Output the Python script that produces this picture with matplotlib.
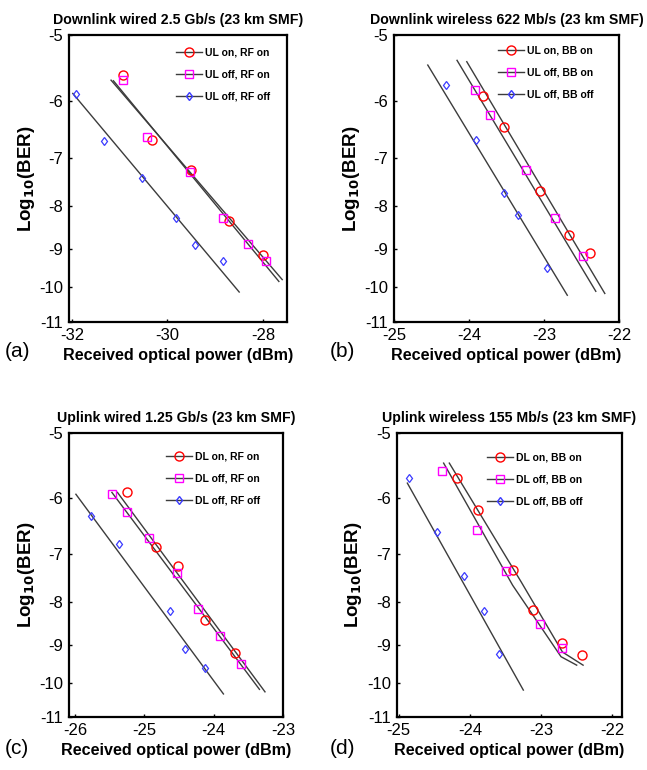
import numpy as np
import matplotlib
matplotlib.use("Agg")
from matplotlib import pyplot as plt
from matplotlib.lines import Line2D

plt.rcParams['font.family'] = ['Liberation Sans', 'DejaVu Sans']
plt.rcParams['axes.unicode_minus'] = False

# (a) Downlink cableado 2.5 Gb/s
a_on_x = [-30.92, -30.33, -29.51, -28.72, -28.01]
a_on_y = [-5.58, -6.67, -7.25, -8.33, -9.14]
a_rf_x = [-30.94, -30.43, -29.53, -28.83, -28.31, -27.93]
a_rf_y = [-5.66, -6.61, -7.28, -8.26, -8.89, -9.30]
a_off_x = [-31.91, -31.33, -30.53, -29.82, -29.43, -28.83]
a_off_y = [-5.88, -6.69, -7.40, -8.26, -8.91, -9.30]
a_fit_on_x, a_fit_on_y = [-31.18, -27.60], [-5.66, -9.79]
a_fit_rf_x, a_fit_rf_y = [-31.13, -27.67], [-5.67, -9.84]
a_fit_off_x, a_fit_off_y = [-31.98, -28.50], [-5.87, -10.13]

# (b) Downlink inalambrico 622 Mb/s
b_on_x = [-23.82, -23.53, -23.05, -22.67, -22.39]
b_on_y = [-5.91, -6.43, -7.68, -8.67, -9.09]
b_rf_x = [-23.92, -23.72, -23.24, -22.86, -22.48]
b_rf_y = [-5.82, -6.22, -7.25, -8.26, -9.17]
b_off_x = [-24.31, -23.91, -23.54, -23.35, -22.96]
b_off_y = [-5.74, -6.67, -7.71, -8.19, -9.47]
b_fit_on_x, b_fit_on_y = [-24.03, -22.19], [-5.38, -10.17]
b_fit_rf_x, b_fit_rf_y = [-24.16, -22.31], [-5.36, -10.11]
b_fit_off_x, b_fit_off_y = [-24.55, -22.69], [-5.43, -10.22]

# (c) Uplink cableado 1.25 Gb/s
c_on_x = [-25.25, -24.84, -24.51, -24.12, -23.69]
c_on_y = [-5.90, -6.87, -7.23, -8.40, -9.20]
c_rf_x = [-25.47, -25.25, -24.93, -24.53, -24.23, -23.91, -23.61]
c_rf_y = [-5.93, -6.23, -6.69, -7.38, -8.15, -8.77, -9.49]
c_off_x = [-25.77, -25.37, -24.63, -24.42, -24.12]
c_off_y = [-6.29, -6.81, -8.19, -9.11, -9.60]
c_fit_on_x, c_fit_on_y = [-25.39, -23.26], [-5.90, -10.25]
c_fit_rf_x, c_fit_rf_y = [-25.47, -23.34], [-5.90, -10.18]
c_fit_off_x, c_fit_off_y = [-25.99, -23.86], [-5.93, -10.31]

# (d) Uplink inalambrico 155 Mb/s
d_on_x = [-24.18, -23.89, -23.39, -23.11, -22.70, -22.43]
d_on_y = [-5.67, -6.20, -7.31, -8.16, -8.95, -9.25]
d_rf_x = [-24.39, -23.90, -23.50, -23.01, -22.70]
d_rf_y = [-5.56, -6.54, -7.34, -8.49, -9.08]
d_off_x = [-24.86, -24.47, -24.09, -23.80, -23.59]
d_off_y = [-5.67, -6.58, -7.43, -8.19, -9.24]
d_fit_on_x, d_fit_on_y = [-24.29, -23.28, -22.70, -22.41], [-5.44, -7.56, -9.18, -9.52]
d_fit_rf_x, d_fit_rf_y = [-24.37, -23.40, -22.72, -22.50], [-5.44, -7.63, -9.30, -9.52]
d_fit_off_x, d_fit_off_y = [-24.88, -23.25], [-5.75, -10.20]

yticks = [-5, -6, -7, -8, -9, -10, -11]
ytick_labels = [str(v) for v in yticks]

line_c = '#3c3c3c'
blue = '#3a3aff'


# eje y: log10(BER) en escala log de -log10(BER)
def fwd(y):
    return -np.log10(np.clip(-np.asarray(y, dtype=float), 1e-6, None))


def inv(u):
    return -10.0 ** (-np.asarray(u, dtype=float))


def panel(ax, title, xlim, xticks, on, rf, off, fits, names, leg_pos):
    for fx, fy in fits:
        ax.plot(fx, fy, color=line_c, lw=1.0, zorder=2)
    ax.plot(on[0], on[1], 'o', mfc='none', mec='red', ms=6.5, mew=1.0, zorder=3)
    ax.plot(rf[0], rf[1], 's', mfc='none', mec='magenta', ms=5.5, mew=1.0, zorder=3)
    ax.plot(off[0], off[1], 'd', mfc='none', mec=blue, ms=4.5, mew=0.9, zorder=3)

    ax.set_yscale('function', functions=(fwd, inv))
    ax.set_ylim(-11, -5)
    ax.set_yticks(yticks)
    ax.set_yticklabels(ytick_labels)
    ax.set_xlim(xlim)
    ax.set_xticks(xticks)
    ax.set_xticklabels([str(v) for v in xticks])
    ax.minorticks_off()
    ax.tick_params(direction='in', length=2.5, width=1, labelsize=12, pad=4)
    for s in ax.spines.values():
        s.set_linewidth(1.6)

    ax.set_title(title, fontsize=10.2, fontweight='bold', pad=8)
    ax.set_xlabel('Received optical power (dBm)', fontsize=11.6, fontweight='bold', labelpad=4)
    ax.set_ylabel(r'Log$_{\mathbf{10}}$(BER)', fontsize=13.5, fontweight='bold', labelpad=2)

    hs = [Line2D([], [], color=line_c, lw=1.0, marker='o', mfc='none', mec='red', ms=6.5),
          Line2D([], [], color=line_c, lw=1.0, marker='s', mfc='none', mec='magenta', ms=5.5),
          Line2D([], [], color=line_c, lw=1.0, marker='d', mfc='none', mec=blue, ms=4.5)]
    ax.legend(hs, names, loc='upper left', bbox_to_anchor=leg_pos, frameon=False,
              prop={'size': 7.5, 'weight': 'bold'}, handlelength=2.5, handletextpad=0.3,
              labelspacing=1.15, borderaxespad=0, borderpad=0)


fig = plt.figure(figsize=(6.47, 7.70), dpi=100)
ax_a = fig.add_axes([0.1066, 0.5818, 0.3370, 0.3727])
ax_b = fig.add_axes([0.6090, 0.5818, 0.3478, 0.3727])
ax_c = fig.add_axes([0.1066, 0.0684, 0.3308, 0.3697])
ax_d = fig.add_axes([0.6131, 0.0684, 0.3475, 0.3697])

panel(ax_a, 'Downlink wired 2.5 Gb/s (23 km SMF)', (-32.06, -27.5), [-32, -30, -28],
      (a_on_x, a_on_y), (a_rf_x, a_rf_y), (a_off_x, a_off_y),
      [(a_fit_on_x, a_fit_on_y), (a_fit_rf_x, a_fit_rf_y), (a_fit_off_x, a_fit_off_y)],
      ['UL on, RF on', 'UL off, RF on', 'UL off, RF off'], (0.491, 0.955))
panel(ax_b, 'Downlink wireless 622 Mb/s (23 km SMF)', (-25.0, -22.0), [-25, -24, -23, -22],
      (b_on_x, b_on_y), (b_rf_x, b_rf_y), (b_off_x, b_off_y),
      [(b_fit_on_x, b_fit_on_y), (b_fit_rf_x, b_fit_rf_y), (b_fit_off_x, b_fit_off_y)],
      ['UL on, BB on', 'UL off, BB on', 'UL off, BB off'], (0.462, 0.962))
panel(ax_c, 'Uplink wired 1.25 Gb/s (23 km SMF)', (-26.09, -23.0), [-26, -25, -24, -23],
      (c_on_x, c_on_y), (c_rf_x, c_rf_y), (c_off_x, c_off_y),
      [(c_fit_on_x, c_fit_on_y), (c_fit_rf_x, c_fit_rf_y), (c_fit_off_x, c_fit_off_y)],
      ['DL on, RF on', 'DL off, RF on', 'DL off, RF off'], (0.453, 0.933))
panel(ax_d, 'Uplink wireless 155 Mb/s (23 km SMF)', (-25.03, -21.87), [-25, -24, -23, -22],
      (d_on_x, d_on_y), (d_rf_x, d_rf_y), (d_off_x, d_off_y),
      [(d_fit_on_x, d_fit_on_y), (d_fit_rf_x, d_fit_rf_y), (d_fit_off_x, d_fit_off_y)],
      ['DL on, BB on', 'DL off, BB on', 'DL off, BB off'], (0.40, 0.93))

# letras de los paneles
fig.text(5 / 647, 1 - 352 / 770, '(a)', fontsize=15, va='center')
fig.text(330 / 647, 1 - 352 / 770, '(b)', fontsize=15, va='center')
fig.text(5 / 647, 1 - 748 / 770, '(c)', fontsize=15, va='center')
fig.text(330 / 647, 1 - 748 / 770, '(d)', fontsize=15, va='center')

fig.savefig('out.png', dpi=100)
